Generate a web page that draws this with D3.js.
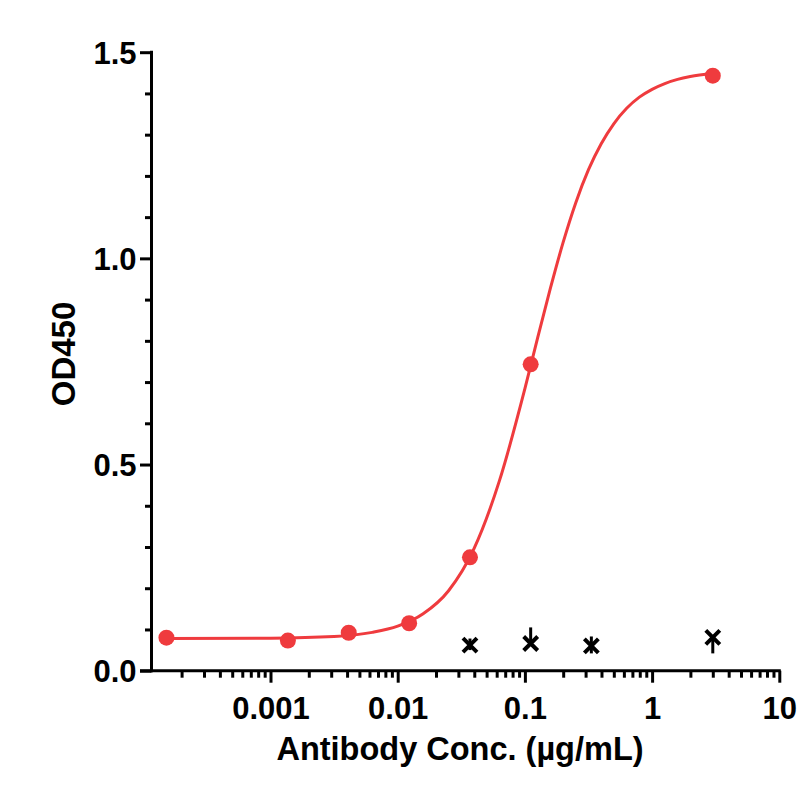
<!DOCTYPE html>
<html>
<head>
<meta charset="utf-8">
<script src="https://cdn.jsdelivr.net/npm/d3@7"></script>
<style>
  html, body { margin: 0; padding: 0; background: #fff; }
  svg { display: block; }
  text { font-family: "Liberation Sans", Arial, sans-serif; font-weight: bold; fill: #000; }
</style>
</head>
<body>
<svg id="chart"></svg>
<script>
// antibody binding (red, fitted)
const concRed = [0.000152, 0.00137, 0.00412, 0.0123, 0.037, 0.111, 3];
const odRed   = [0.080, 0.073, 0.092, 0.115, 0.275, 0.743, 1.443];

// fitted curve
const curveConc = [0.000152, 0.001, 0.00316, 0.00631, 0.01, 0.01585, 0.02512, 0.03981, 0.0631,
                   0.1, 0.1259, 0.1585, 0.1995, 0.2512, 0.3162, 0.3981, 0.5012, 0.631, 0.7943,
                   1, 1.259, 1.585, 1.995, 3];
const curveOD   = [0.078, 0.079, 0.083, 0.093, 0.108, 0.138, 0.194, 0.296, 0.461,
                   0.684, 0.807, 0.927, 1.038, 1.135, 1.215, 1.278, 1.327, 1.364, 1.391,
                   1.410, 1.424, 1.434, 1.441, 1.449];

// control (black crosses) with error bars
const concCtrl = [0.037, 0.111, 0.333, 3];
const odCtrl   = [0.062, 0.066, 0.060, 0.081];
const ctrlLo   = [0.050, 0.066, 0.042, 0.042];
const ctrlHi   = [0.078, 0.105, 0.083, 0.081];

const xMajor = [0.001, 0.01, 0.1, 1, 10];
const xMajorLabels = ["0.001", "0.01", "0.1", "1", "10"];
const yMajor = [0, 0.5, 1.0, 1.5];

const width = 810, height = 789;
const red = "#ef3b3e";

const svg = d3.select("#chart").attr("width", width).attr("height", height);

const x = d3.scaleLog().domain([0.000116, 10]).range([151.5, 779.3]);
const y = d3.scaleLinear().domain([0, 1.5]).range([670.7, 52.2]);

// minor ticks
const xMinor = [];
[0.0001, 0.001, 0.01, 0.1, 1].forEach(d => {
  for (let k = 2; k <= 9; k++) { const v = d * k; if (v > x.domain()[0]) xMinor.push(v); }
});
const yMinor = d3.range(0, 1.5001, 0.1).filter(v => !yMajor.some(m => Math.abs(m - v) < 1e-6));

function styleAxis(g) {
  g.select(".domain").remove();
  g.selectAll(".tick line").attr("stroke", "#000").attr("stroke-width", 3);
}

// x axis
svg.append("g").attr("transform", `translate(0,${y(0)})`)
  .call(d3.axisBottom(x).tickValues(xMinor).tickSize(7).tickFormat(""))
  .call(styleAxis);

svg.append("g").attr("transform", `translate(0,${y(0)})`)
  .call(d3.axisBottom(x).tickValues(xMajor).tickSize(12)
        .tickFormat((d, i) => xMajorLabels[i]))
  .call(styleAxis)
  .call(g => g.selectAll("text")
    .attr("y", 48).attr("dy", null)
    .style("font-size", "31px"));

svg.append("line")
  .attr("x1", 140).attr("x2", x(10) + 1.5)
  .attr("y1", y(0)).attr("y2", y(0))
  .attr("stroke", "#000").attr("stroke-width", 3);

// y axis
svg.append("g").attr("transform", `translate(${x.range()[0]},0)`)
  .call(d3.axisLeft(y).tickValues(yMinor).tickSize(6.5).tickFormat(""))
  .call(styleAxis);

svg.append("g").attr("transform", `translate(${x.range()[0]},0)`)
  .call(d3.axisLeft(y).tickValues(yMajor).tickSize(11.5).tickFormat(d3.format(".1f")))
  .call(styleAxis)
  .call(g => g.selectAll("text")
    .attr("x", -15).attr("dy", "0.36em")
    .style("font-size", "31px"));

svg.append("line")
  .attr("x1", x.range()[0]).attr("x2", x.range()[0])
  .attr("y1", y(1.5) - 1.5).attr("y2", y(0) + 1.5)
  .attr("stroke", "#000").attr("stroke-width", 3);

// axis titles
svg.append("text")
  .attr("x", 460).attr("y", 760)
  .attr("text-anchor", "middle")
  .style("font-size", "32.5px")
  .text("Antibody Conc. (µg/mL)");

svg.append("text")
  .attr("transform", "translate(75,354) rotate(-90)")
  .attr("text-anchor", "middle")
  .style("font-size", "33px")
  .text("OD450");

// fitted curve
const line = d3.line()
  .x(d => x(d[0]))
  .y(d => y(d[1]))
  .curve(d3.curveMonotoneX);

svg.append("path")
  .datum(d3.zip(curveConc, curveOD))
  .attr("d", line)
  .attr("fill", "none")
  .attr("stroke", red)
  .attr("stroke-width", 3);

svg.selectAll("circle.pt")
  .data(d3.zip(concRed, odRed))
  .join("circle")
    .attr("class", "pt")
    .attr("cx", d => x(d[0]))
    .attr("cy", d => y(d[1]))
    .attr("r", 8)
    .attr("fill", red);

// control crosses
const ctrl = concCtrl.map((c, i) => ({ c, v: odCtrl[i], lo: ctrlLo[i], hi: ctrlHi[i] }));

svg.selectAll("line.err")
  .data(ctrl)
  .join("line")
    .attr("class", "err")
    .attr("x1", d => x(d.c)).attr("x2", d => x(d.c))
    .attr("y1", d => y(d.hi)).attr("y2", d => y(d.lo))
    .attr("stroke", "#000").attr("stroke-width", 3);

const s = 7;
svg.selectAll("path.cross")
  .data(ctrl)
  .join("path")
    .attr("class", "cross")
    .attr("d", d => {
      const cx = x(d.c), cy = y(d.v);
      return `M${cx - s},${cy - s}L${cx + s},${cy + s}M${cx - s},${cy + s}L${cx + s},${cy - s}`;
    })
    .attr("stroke", "#000").attr("stroke-width", 4).attr("fill", "none");
</script>
</body>
</html>
